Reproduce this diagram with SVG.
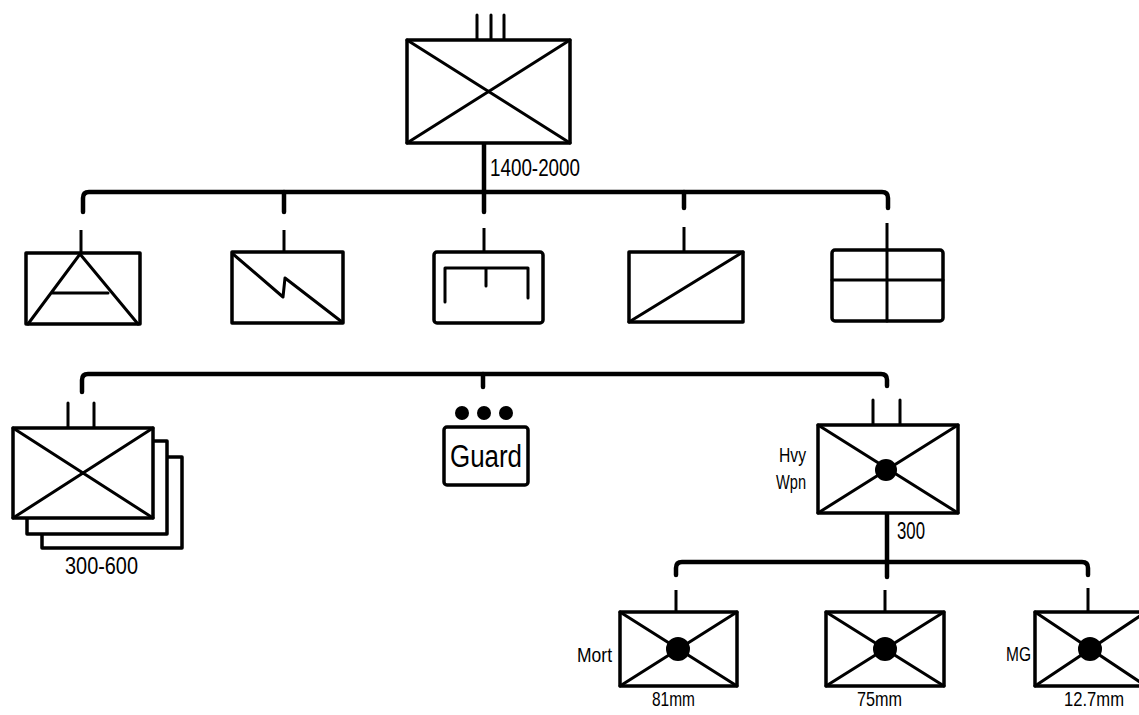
<svg xmlns="http://www.w3.org/2000/svg" width="1139" height="715" viewBox="0 0 1139 715">
<style>
  .box { fill: #fff; stroke: #000; stroke-width: 3.5; stroke-linejoin: round; }
  .ln { fill: none; stroke: #000; stroke-width: 3; stroke-linecap: round; stroke-linejoin: round; }
  .bus { fill: none; stroke: #000; stroke-width: 4.5; stroke-linecap: round; stroke-linejoin: round; }
  .drop { fill: none; stroke: #000; stroke-width: 3; stroke-linecap: butt; }
  .dot { fill: #000; }
  text { font-family: "Liberation Sans", Arial, sans-serif; fill: #000; }
  .lbl { font-size: 24px; }
  .sm { font-size: 21px; }
</style>
<rect width="1139" height="715" fill="#fff"/>

<g id="connectors">
  <path class="bus" d="M484 143 V212"/>
  <path class="bus" d="M83 212 V198 Q83 192 89 192 H882 Q888 192 888 198 V208"/>
  <path class="bus" d="M284 192 V212"/>
  <path class="bus" d="M684 192 V208"/>
  <path class="drop" d="M81 230 V253"/>
  <path class="drop" d="M284 230 V252"/>
  <path class="drop" d="M484 228 V252"/>
  <path class="drop" d="M684 227 V252"/>
  <path class="drop" d="M887 223 V250"/>
  <path class="bus" d="M82 392 V380 Q82 374 88 374 H881 Q887 374 887 380 V386"/>
  <path class="bus" d="M483 374 V387"/>
  <path class="bus" d="M887 513 V577"/>
  <path class="bus" d="M676 575 V568 Q676 562 682 562 H1082 Q1088 562 1088 568 V575"/>
  <path class="drop" d="M676 590 V612"/>
  <path class="drop" d="M885 590 V612"/>
  <path class="drop" d="M1088 588 V612"/>
</g>

<g id="hq">
  <path class="ln" d="M477 15 V40 M491 15 V40 M504 15 V40"/>
  <rect class="box" x="407" y="40" width="163" height="103"/>
  <path class="ln" d="M407 40 L570 143 M570 40 L407 143"/>
  <text class="lbl" x="490" y="176" textLength="90" lengthAdjust="spacingAndGlyphs">1400-2000</text>
</g>

<g id="air-defense">
  <rect class="box" x="26" y="253" width="114" height="71"/>
  <path class="ln" d="M28 324 L80 254 L138 324 M53 293 H108"/>
</g>

<g id="signal">
  <rect class="box" x="232" y="252" width="111" height="71"/>
  <path class="ln" d="M233 254 L283 297 L285 278 L342 322"/>
</g>

<g id="engineer">
  <rect class="box" x="434" y="252" width="109" height="71" rx="3"/>
  <path class="ln" d="M445 302 V268 H528 V298 M486 268 V286"/>
</g>

<g id="armor">
  <rect class="box" x="629" y="252" width="114" height="70"/>
  <path class="ln" d="M629 322 L743 252"/>
</g>

<g id="hq-service">
  <rect class="box" x="832" y="250" width="111" height="71" rx="3"/>
  <path class="ln" d="M832 280 H943 M887 250 V321"/>
</g>

<g id="rifle-companies">
  <rect class="box" x="42" y="457" width="140" height="91"/>
  <rect class="box" x="27" y="441" width="140" height="93"/>
  <path class="ln" d="M68 403 V428 M94 403 V428"/>
  <rect class="box" x="13" y="428" width="140" height="90"/>
  <path class="ln" d="M13 428 L153 518 M153 428 L13 518"/>
  <text class="lbl" x="65" y="574" textLength="73" lengthAdjust="spacingAndGlyphs">300-600</text>
</g>

<g id="guard">
  <circle class="dot" cx="462" cy="413" r="7"/>
  <circle class="dot" cx="484" cy="413" r="7"/>
  <circle class="dot" cx="506" cy="413" r="7"/>
  <rect class="box" x="444" y="427" width="84" height="58" rx="3"/>
  <text x="450" y="467" font-size="31" textLength="72" lengthAdjust="spacingAndGlyphs">Guard</text>
</g>

<g id="heavy-weapons">
  <path class="ln" d="M873 400 V425 M900 400 V425"/>
  <rect class="box" x="818" y="425" width="140" height="88"/>
  <path class="ln" d="M818 425 L958 513 M958 425 L818 513"/>
  <circle class="dot" cx="886" cy="470" r="11"/>
  <text class="sm" x="806" y="462" text-anchor="end" textLength="27" lengthAdjust="spacingAndGlyphs">Hvy</text>
  <text class="sm" x="806" y="489" text-anchor="end" textLength="30" lengthAdjust="spacingAndGlyphs">Wpn</text>
  <text class="lbl" x="897" y="539" textLength="28" lengthAdjust="spacingAndGlyphs">300</text>
</g>

<g id="mortar">
  <rect class="box" x="620" y="612" width="117" height="74"/>
  <path class="ln" d="M620 612 L737 686 M737 612 L620 686"/>
  <circle class="dot" cx="678" cy="649" r="12"/>
  <text class="sm" x="612" y="662" text-anchor="end" textLength="35" lengthAdjust="spacingAndGlyphs">Mort</text>
  <text class="sm" x="652" y="706" textLength="43" lengthAdjust="spacingAndGlyphs">81mm</text>
</g>

<g id="recoilless">
  <rect class="box" x="826" y="612" width="118" height="74"/>
  <path class="ln" d="M826 612 L944 686 M944 612 L826 686"/>
  <circle class="dot" cx="885" cy="649" r="12"/>
  <text class="sm" x="857" y="706" textLength="45" lengthAdjust="spacingAndGlyphs">75mm</text>
</g>

<g id="machine-gun">
  <rect class="box" x="1035" y="612" width="111" height="74"/>
  <path class="ln" d="M1035 612 L1146 686 M1146 612 L1035 686"/>
  <circle class="dot" cx="1090" cy="649" r="12"/>
  <text class="sm" x="1031" y="661" text-anchor="end" textLength="25" lengthAdjust="spacingAndGlyphs">MG</text>
  <text class="sm" x="1064" y="706" textLength="60" lengthAdjust="spacingAndGlyphs">12.7mm</text>
</g>
</svg>
